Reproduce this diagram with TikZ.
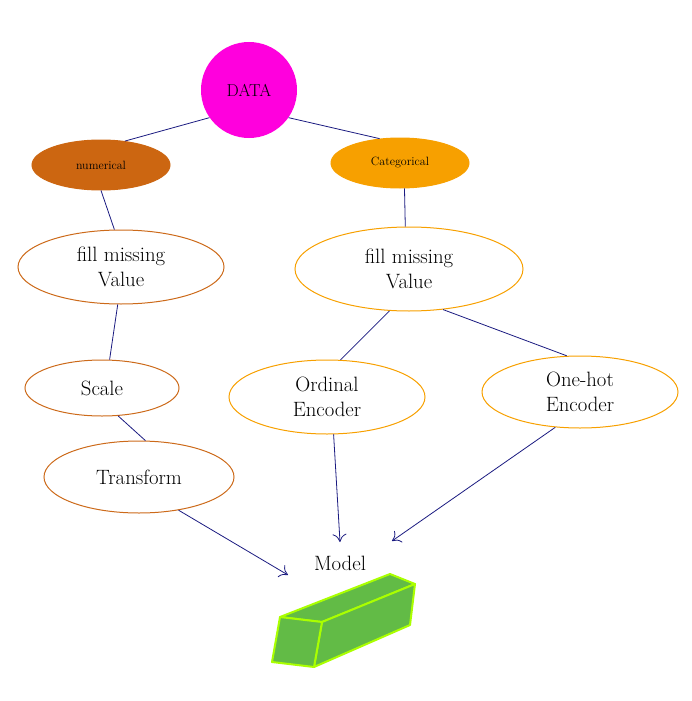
\documentclass[tikz,border=0pt]{standalone}
\usetikzlibrary{arrows.meta,shapes.geometric}
\definecolor{navy}{HTML}{1A1A80}
\definecolor{mag}{HTML}{FF00DD}
\definecolor{numc}{HTML}{CC6611}
\definecolor{catc}{HTML}{F7A000}
\definecolor{lbor}{HTML}{CC6A1A}
\definecolor{gfill}{HTML}{62BB46}
\definecolor{gbor}{HTML}{AAFF00}
\begin{document}
\begin{tikzpicture}[x=1pt,y=-1pt,
  ell/.style={draw,ellipse,line width=1pt,inner sep=0pt,align=center,font=\huge},
  conn/.style={navy,line width=0.8pt},
  arr/.style={conn,-{To[length=8pt,width=14pt]}}]
\useasboundingbox (0,0) rectangle (691,701);
\node[circle,fill=mag,minimum size=96pt,inner sep=0pt,font=\LARGE] (data) at (249,90) {DATA};
\node[ell,fill=numc,draw=numc,minimum width=138pt,minimum height=50pt,font=\large] (num) at (101,165) {numerical};
\node[ell,fill=catc,draw=catc,minimum width=138pt,minimum height=50pt,font=\large] (cat) at (400,163) {Categorical};
\node[ell,draw=lbor,minimum width=206pt,minimum height=74pt] (fl) at (121,267) {fill missing\\Value};
\node[ell,draw=catc,minimum width=228pt,minimum height=84pt] (fr) at (409,269) {fill missing\\Value};
\node[ell,draw=lbor,minimum width=154pt,minimum height=56pt] (sc) at (102,388) {Scale};
\node[ell,draw=lbor,minimum width=190pt,minimum height=72pt] (tr) at (139,477) {Transform};
\node[ell,draw=catc,minimum width=196pt,minimum height=74pt] (ord) at (327,397) {Ordinal\\Encoder};
\node[ell,draw=catc,minimum width=196pt,minimum height=72pt] (oh) at (580,392) {One-hot\\Encoder};
\node[font=\huge] (model) at (340,563) {Model};
\coordinate (ma) at (288,575);
\coordinate (mb) at (340,542);
\coordinate (mc) at (392,541);
\draw[conn] (data.215) -- (num.45);
\draw[conn] (data.-35) -- (cat.130);
\draw[conn] (num.-90) -- (fl.100);
\draw[conn] (cat.-80) -- (fr.95);
\draw[conn] (fl.-95) -- (sc.75);
\draw[conn] (sc.-60) -- (tr.80);
\draw[conn] (fr.-115) -- (ord.70);
\draw[conn] (fr.-50) -- (oh.110);
\draw[arr] (tr.-40) -- (ma);
\draw[arr] (ord.-80) -- (mb);
\draw[arr] (oh.-125) -- (mc);
\begin{scope}[fill=gfill,draw=gbor,line width=2pt,line join=round]
\filldraw (280,617) -- (322,622) -- (415,584) -- (390,574) -- cycle;
\filldraw (322,622) -- (415,584) -- (410,625) -- (314,667) -- cycle;
\filldraw (280,617) -- (322,622) -- (314,667) -- (272,662) -- cycle;
\end{scope}
\end{tikzpicture}
\end{document}
